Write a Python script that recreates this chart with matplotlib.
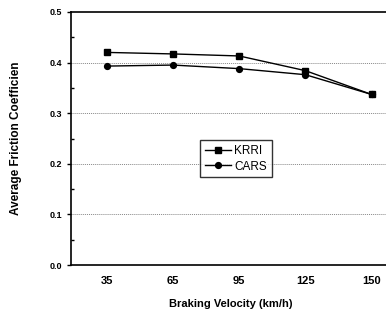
import matplotlib
matplotlib.use("Agg")
import matplotlib.pyplot as plt
from matplotlib.ticker import MultipleLocator

categories = ["35", "65", "95", "125", "150"]
krri = [0.420, 0.417, 0.413, 0.384, 0.337]
cars = [0.393, 0.395, 0.388, 0.376, 0.337]

plt.rcParams['font.family'] = ['Liberation Sans', 'DejaVu Sans']
fig = plt.figure(figsize=(3.86, 3.13), dpi=100)
ax = fig.add_axes([0.184, 0.153, 0.83, 0.809])

x = list(range(len(categories)))
ax.plot(x, krri, color='black', lw=1.0, marker='s', ms=4.2, label='KRRI')
ax.plot(x, cars, color='black', lw=1.0, marker='o', ms=4.2, label='CARS')

ax.set_xlim(-0.54, 4.3)
ax.set_ylim(0.0, 0.5)
ax.set_xticks(x)
ax.set_xticklabels(categories, fontsize=8, fontweight='bold')
ax.tick_params(axis='x', length=0, pad=8)
ax.yaxis.set_major_locator(MultipleLocator(0.1))
ax.yaxis.set_minor_locator(MultipleLocator(0.05))
ax.set_yticklabels([f"{v:.1f}" for v in ax.get_yticks()], fontsize=6.5, fontweight='bold')
ax.tick_params(axis='y', which='major', length=3, width=1, direction='out')
ax.tick_params(axis='y', which='minor', length=2, width=1, direction='in')

for v in [0.1, 0.2, 0.3, 0.4]:
    ax.axhline(v, color='#888888', lw=0.7, ls=(0, (1, 1)), zorder=0)

for s in ['left', 'bottom', 'top']:
    ax.spines[s].set_linewidth(1.2)
ax.spines['right'].set_visible(False)

ax.set_xlabel('Braking Velocity (km/h)', fontsize=8, fontweight='bold', labelpad=9)
ax.set_ylabel('Average Friction Coefficien', fontsize=8.5, fontweight='bold', labelpad=20)

leg = ax.legend(loc='center', bbox_to_anchor=(0.515, 0.42), fontsize=8.5, frameon=True,
                fancybox=False, edgecolor='black', handlelength=2.2, borderpad=0.4,
                labelspacing=0.3, handletextpad=0.3)
leg.get_frame().set_linewidth(1.0)

fig.savefig('out.png', dpi=100)
